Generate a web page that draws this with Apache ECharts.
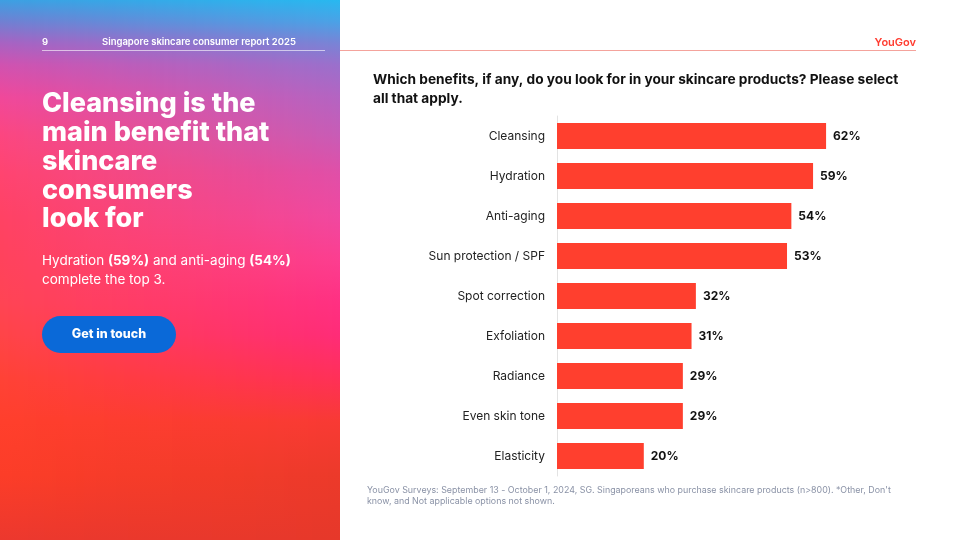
<!DOCTYPE html>
<html><head><meta charset="utf-8">
<script src="https://cdn.jsdelivr.net/npm/echarts@6/dist/echarts.min.js"></script>
<style>html,body{margin:0;padding:0;background:#fff}#c{width:960px;height:540px}</style>
</head><body><div id="c"></div>
<script>
const categories = ['Cleansing','Hydration','Anti-aging','Sun protection / SPF','Spot correction','Exfoliation','Radiance','Even skin tone','Elasticity'];
const values = [62,59,54,53,32,31,29,29,20];
const questionLines = ['Which benefits, if any, do you look for in your skincare products? Please select','all that apply.'];
const headlineLines = ['Cleansing is the','main benefit that','skincare','consumers','look for'];
const footnoteLines = ["YouGov Surveys: September 13 - October 1, 2024, SG. Singaporeans who purchase skincare products (n>800). *Other, Don't","know, and Not applicable options not shown."];

const chart = echarts.init(document.getElementById('c'), null, {renderer:'canvas'});
const F = 'Inter, "Noto Sans", sans-serif';

// decorative panel background gradient (left edge / right edge colour ramps)
const gOff = [0,0.04,0.08,0.12,0.18,0.25,0.32,0.4,0.48,0.56,0.62,0.7,0.78,0.88,1];
const gLeft = ['#3d9fe2','#7080d2','#a862c2','#d052b0','#f0489a','#fc4680','#ff4470','#ff4264','#ff425c','#ff4454','#ff4448','#ff4236','#ff3f2c','#fc3d28','#ec382e'];
const gRight = ['#28b8f0','#4aa2e6','#7884d6','#9a70cc','#b464c2','#c85cb6','#e04fa8','#f048a0','#fc3e90','#ff3082','#ff2c78','#ff3058','#f83a34','#ec3a2a','#e6382a'];
function hx(c){return [parseInt(c.slice(1,3),16),parseInt(c.slice(3,5),16),parseInt(c.slice(5,7),16)];}
function mix(a,b,u){const A=hx(a),B=hx(b);return 'rgb('+A.map((v,i)=>Math.round(v+(B[i]-v)*u)).join(',')+')';}

const graphics = [];
const SW = 4, PW = 340;
for (let x=0; x<PW; x+=SW){
  const u = Math.min(1, (x+SW/2)/PW);
  graphics.push({type:'rect', silent:true, z:-10, shape:{x:x, y:0, width:Math.min(SW+1, PW-x), height:540},
    style:{fill:{type:'linear',x:0,y:0,x2:0,y2:1,colorStops:gOff.map((o,i)=>({offset:o,color:mix(gLeft[i],gRight[i],u)}))}}});
}
graphics.push(
  // header
  {type:'text', left:42, top:37, style:{text:'9', fill:'#fff', font:'600 9.5px '+F}},
  {type:'text', left:102, top:37, style:{text:'Singapore skincare consumer report 2025', fill:'#fff', font:'600 9.5px '+F}},
  {type:'line', shape:{x1:42,y1:50.5,x2:325,y2:50.5}, style:{stroke:'rgba(255,255,255,0.6)', lineWidth:1}},
  {type:'line', shape:{x1:340,y1:50.5,x2:916,y2:50.5}, style:{stroke:'#f4a39c', lineWidth:1}},
  {type:'text', right:44, top:37, style:{text:'YouGov', fill:'#ff3b2f', font:'600 11px '+F}},
  // button
  {type:'rect', shape:{x:42,y:316,width:134,height:37,r:18.5}, style:{fill:'#0a69d8'}},
  {type:'text', x:109, y:334.5, style:{text:'Get in touch', fill:'#fff', font:'800 12.5px '+F, align:'center', verticalAlign:'middle'}},
  // subtitle
  {type:'text', x:42, y:261, style:{text:'Hydration {b|(59%)} and anti-aging {b|(54%)}', fill:'#fff', font:'400 13.5px '+F, verticalAlign:'middle',
    rich:{b:{fill:'#fff', font:'700 13.5px '+F}}}},
  {type:'text', x:42, y:280, style:{text:'complete the top 3.', fill:'#fff', font:'400 13.5px '+F, verticalAlign:'middle'}}
);
headlineLines.forEach((t,i)=>graphics.push({type:'text', x:42, y:104+i*28.8, style:{text:t, fill:'#fff', font:'800 27px '+F, verticalAlign:'middle'}}));
questionLines.forEach((t,i)=>graphics.push({type:'text', x:373, y:80+i*19, style:{text:t, fill:'#111', font:'700 13.7px '+F, verticalAlign:'middle'}}));
footnoteLines.forEach((t,i)=>graphics.push({type:'text', x:367, y:490+i*11, style:{text:t, fill:'#8a92a6', font:'400 8.9px '+F, verticalAlign:'middle'}}));

chart.setOption({
  animation:false,
  grid:{left:557, top:116, width:347.2, height:360, containLabel:false},
  xAxis:{type:'value', min:0, max:80, show:false},
  yAxis:{type:'category', data:categories, inverse:true,
    axisLine:{show:true, lineStyle:{color:'#e3e3e3', width:1}},
    axisTick:{show:false},
    axisLabel:{color:'#222', fontFamily:F, fontSize:12, margin:12}},
  series:[{type:'bar', data:values, barWidth:26, itemStyle:{color:'#ff3f2e'},
    label:{show:true, position:'right', distance:7, formatter:'{c}%', color:'#111', fontFamily:F, fontWeight:700, fontSize:12}}],
  graphic:graphics
});
</script></body></html>
